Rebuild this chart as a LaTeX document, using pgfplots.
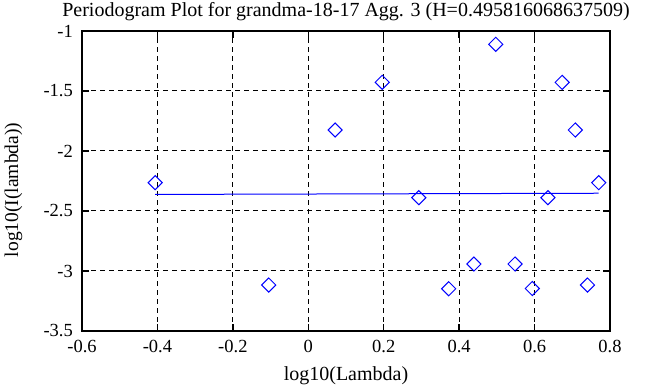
\documentclass[border=0pt]{standalone}
\usepackage{pgfplots}
\pgfplotsset{compat=1.18}
\usepackage{fontspec}
\setmainfont{Liberation Serif}
\begin{document}
\fontsize{18}{21}\selectfont
\begin{tikzpicture}
\begin{axis}[
  width=528pt, height=300pt, scale only axis,
  xmin=-0.6, xmax=0.8, ymin=-3.5, ymax=-1,
  xtick={-0.6,-0.4,-0.2,0,0.2,0.4,0.6,0.8},
  ytick={-3.5,-3,-2.5,-2,-1.5,-1},
  /pgf/number format/assume math mode=true,
  /pgf/number format/fixed,
  tick label style={font=\fontsize{18.5}{21}\selectfont},
  xticklabel style={yshift=-3pt},
  yticklabel style={xshift=-3pt},
  axis line style={line width=2pt},
  tick style={black, line width=1.5pt},
  major tick length=7pt,
  tick align=inside,
  grid=major,
  major grid style={black, line width=1pt, dash pattern=on 5pt off 4pt},
  title={Periodogram Plot for grandma-18-17 Agg. 3 (H=0.495816068637509)},
  title style={at={(axis description cs:0.5,1)}, anchor=base, yshift=8pt, font=\fontsize{20}{23}\selectfont},
  xlabel={log10(Lambda)},
  xlabel style={at={(axis description cs:0.5,0)}, anchor=base, yshift=-49pt, font=\fontsize{20}{23}\selectfont},
  ylabel={log10(I(lambda))},
  ylabel style={at={(axis description cs:-0.1212,0.47)}, anchor=base, font=\fontsize{19.5}{23}\selectfont},
]
\addplot[blue, only marks, mark=square, mark size=5pt, mark options={rotate=45, line width=1pt}] coordinates {
(-0.40594,-2.264) (-0.10491,-3.117) (0.07118,-1.825) (0.19612,-1.428)
(0.29303,-2.389) (0.37221,-3.148) (0.43916,-2.942) (0.49715,-1.111)
(0.54830,-2.942) (0.59406,-3.146) (0.63546,-2.389) (0.67324,-1.428)
(0.70800,-1.825) (0.74019,-3.117) (0.77015,-2.264)
};
\addplot[blue, line width=1pt, mark=none] coordinates {(-0.40594,-2.362) (0.77015,-2.352)};
\end{axis}
\pgfresetboundingbox
\path[use as bounding box] ([xshift=-82pt,yshift=-56pt]current axis.south west) rectangle ([xshift=58pt,yshift=31pt]current axis.north east);
\end{tikzpicture}
\end{document}
